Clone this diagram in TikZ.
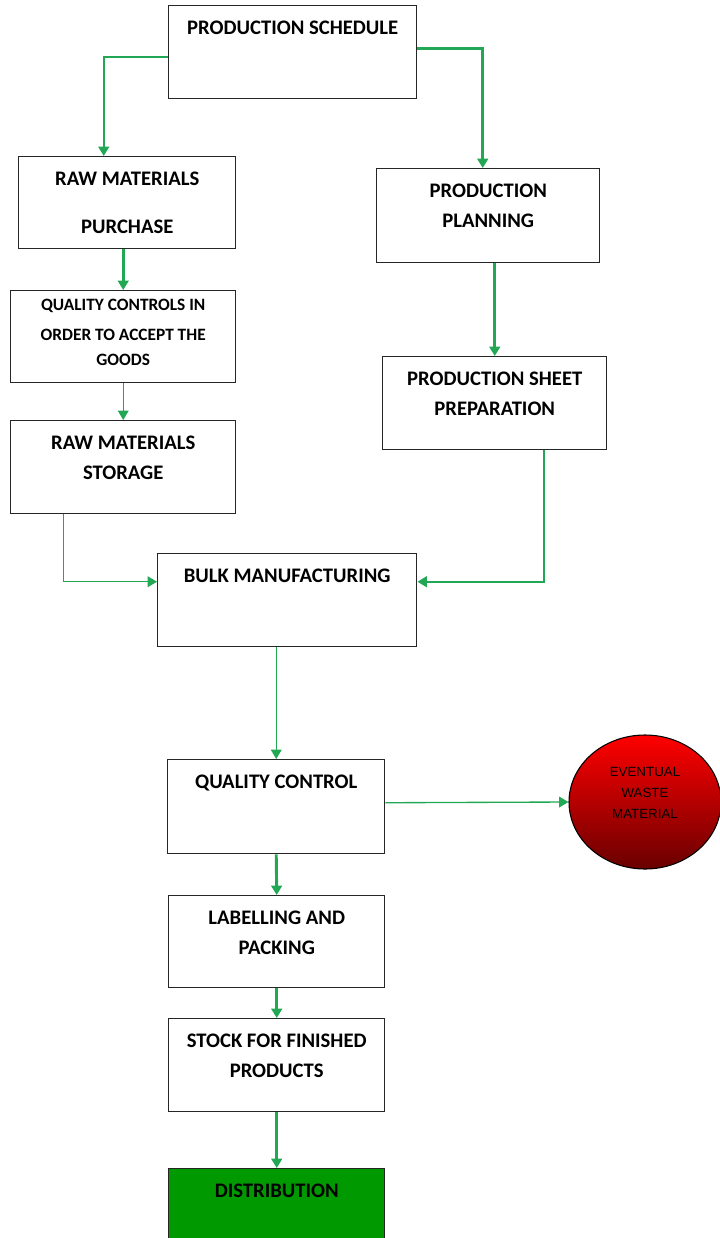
\documentclass[tikz,border=0pt]{standalone}
\usepackage{fontspec}
\setmainfont{Carlito}
\newfontfamily\wastefont{Liberation Sans}
\usetikzlibrary{arrows.meta,calc,shapes.geometric}
\definecolor{linkgreen}{RGB}{34,168,84}
\definecolor{distgreen}{RGB}{0,153,0}
\definecolor{wastered}{RGB}{105,0,0}

\begin{document}
\begin{tikzpicture}[x=0.75pt,y=-0.75pt,
    box/.style={rectangle,draw=black!85,line width=1.1pt,anchor=north west,inner sep=0pt},
    txt/.style={anchor=north,inner sep=0pt,yshift=-11.5pt,align=center,
        font=\bfseries\fontsize{15.5}{22.5}\selectfont},
    link/.style={draw=linkgreen,line width=2.2pt,-{Triangle[length=7pt,width=8pt]}},
    thinlink/.style={link,line width=1pt}]

    \useasboundingbox (0,0) rectangle (719,1238);

    % left and right branches
    \node (sched) [box,minimum width=186pt,minimum height=69.75pt,
        label={[txt]north:PRODUCTION SCHEDULE}] at (168,5) {};
    \node (rawp) [box,minimum width=162.75pt,minimum height=69pt,
        label={[txt]north:{RAW MATERIALS\\[13.5pt]PURCHASE}}] at (18,156) {};
    \node (plan) [box,minimum width=167.25pt,minimum height=70.5pt,
        label={[txt]north:{PRODUCTION\\PLANNING}}] at (376,168) {};
    \node (qca) [box,minimum width=168.75pt,minimum height=69pt,
        label={[txt,yshift=5pt,font=\bfseries\fontsize{13}{22.5}\selectfont]north:{QUALITY CONTROLS IN\\ORDER TO ACCEPT THE\\[-3.75pt]GOODS}}] at (10,290) {};
    \node (sheet) [box,minimum width=168pt,minimum height=69.75pt,
        label={[txt]north:{PRODUCTION SHEET\\PREPARATION}}] at (382,356) {};
    \node (store) [box,minimum width=168.75pt,minimum height=69.75pt,
        label={[txt]north:{RAW MATERIALS\\STORAGE}}] at (10,420) {};

    % main line
    \node (bulk) [box,minimum width=194.25pt,minimum height=69.75pt,
        label={[txt]north:BULK MANUFACTURING}] at (157,553) {};
    \node (qc) [box,minimum width=162.75pt,minimum height=70.5pt,
        label={[txt]north:QUALITY CONTROL}] at (167,759) {};
    \node (lab) [box,minimum width=162pt,minimum height=69pt,
        label={[txt]north:{LABELLING AND\\PACKING}}] at (168,895) {};
    \node (stock) [box,minimum width=162pt,minimum height=69.75pt,
        label={[txt]north:{STOCK FOR FINISHED\\PRODUCTS}}] at (168,1018) {};
    \node (dist) [box,fill=distgreen,minimum width=162pt,minimum height=69pt,
        label={[txt]north:DISTRIBUTION}] at (168,1168) {};

    \node (waste) [ellipse,draw=black,line width=0.8pt,top color=red,bottom color=wastered,
        minimum width=114pt,minimum height=100.5pt,inner sep=0pt,
        label={[anchor=center,yshift=7pt,align=center,
            font=\wastefont\fontsize{10}{15.75}\selectfont]center:{EVENTUAL\\WASTE\\MATERIAL}}]
        at (645,802) {};

    \draw[link,line width=1.6pt] ($(sched.west)+(0,4.5)$) -| ($(rawp.north)+(-23.5,0)$);
    \draw[link] ($(sched.east)+(0,-3.5)$) -| ($(plan.north)+(-5.5,0)$);
    \draw[link] (qca.north |- rawp.south) -- (qca.north);
    \draw[thinlink] (qca.south) -- (store.north);
    \draw[link] (sheet.north |- plan.south) -- (sheet.north);
    \draw[thinlink] ($(store.south)+(-59.5,0)$) |- ($(bulk.west)+(0,-18.5)$);
    \draw[link,line width=1.6pt] ($(sheet.south)+(49,0)$) |- ($(bulk.east)+(0,-18.5)$);
    \draw[thinlink] (qc.north |- bulk.south) -- (qc.north);
    \draw[thinlink] ($(qc.east)+(0,-4)$) -- (waste.west);
    \draw[link] (qc.south) -- (lab.north);
    \draw[link] (lab.south) -- (stock.north);
    \draw[link] (stock.south) -- (dist.north);
\end{tikzpicture}
\end{document}
